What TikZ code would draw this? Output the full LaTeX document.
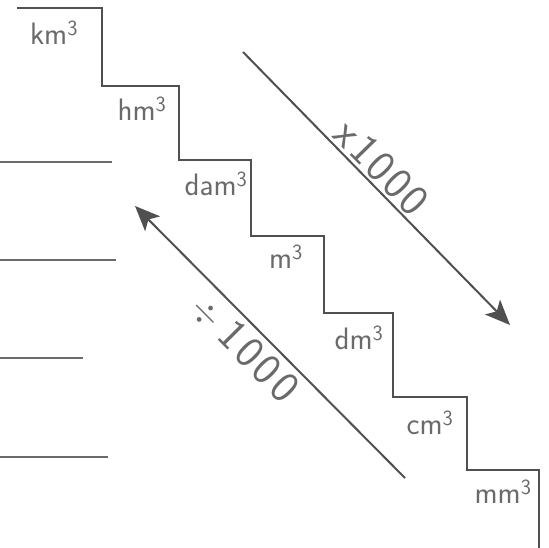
\documentclass[tikz,border=0pt]{standalone}
\usetikzlibrary{arrows.meta}
\definecolor{ink}{HTML}{505050}
\definecolor{pencil}{HTML}{6A6A6A}
\begin{document}
\begin{tikzpicture}[x=1pt,y=-1pt,
  stair/.style={draw=ink,line width=2.2pt,line join=miter},
  rule/.style={draw=ink!85,line width=1.6pt},
  unitlbl/.style={text=pencil,font=\sffamily\fontsize{31}{31}\selectfont,inner sep=0pt},
  factor/.style={text=pencil,font=\sffamily\fontsize{44}{44}\selectfont,inner sep=0pt},
  conv/.style={draw=ink,line width=2pt,-{Stealth[length=25pt,width=21pt,inset=6pt]}}]
\useasboundingbox (0,0) rectangle (549,548);
\fill[white] (0,0) rectangle (549,548);

% staircase of volume units
\coordinate (s0) at (17,8);
\draw[stair] (s0) -| (102,86) -| (179,160) -| (251,236) -| (324,313)
  -| (393,397) -| (467,470) -| (539,548);

% unit labels, one per step
\node[unitlbl] (km) at (54,33) {km\textsuperscript{3}};
\node[unitlbl] (hm) at (142,109) {hm\textsuperscript{3}};
\node[unitlbl] (dam) at (216,184) {dam\textsuperscript{3}};
\node[unitlbl] (m) at (286,257) {m\textsuperscript{3}};
\node[unitlbl] (dm) at (359,338) {dm\textsuperscript{3}};
\node[unitlbl] (cm) at (430,423) {cm\textsuperscript{3}};
\node[unitlbl] (mm) at (503,492) {mm\textsuperscript{3}};

% blank answer lines on the left
\coordinate (l1a) at (0,162); \coordinate (l1b) at (112,162);
\coordinate (l2a) at (0,260); \coordinate (l2b) at (116,260);
\coordinate (l3a) at (0,358); \coordinate (l3b) at (83,358);
\coordinate (l4a) at (0,457); \coordinate (l4b) at (108,457);
\draw[rule] (l1a) -- (l1b);
\draw[rule] (l2a) -- (l2b);
\draw[rule] (l3a) -- (l3b);
\draw[rule] (l4a) -- (l4b);

% conversion arrows
\coordinate (downA) at (243,52);
\coordinate (downB) at (510,325);
\coordinate (upA) at (405,478);
\coordinate (upB) at (135,206);
\draw[conv] (downA) -- (downB);
\draw[conv] (upA) -- (upB);

% factors written along the arrows
\path (downA) -- (downB)
  node[factor,pos=0.47,sloped,above=3pt] (mul) {x\hspace{4pt}1\hspace{3pt}0\hspace{3pt}0\hspace{3pt}0};
\path (upB) -- (upA)
  node[factor,pos=0.465,sloped,below=6pt] (div) {\scalebox{1.5}{$\div$}\hspace{9pt}1\hspace{4pt}0\hspace{4pt}0\hspace{4pt}0};
\end{tikzpicture}
\end{document}
